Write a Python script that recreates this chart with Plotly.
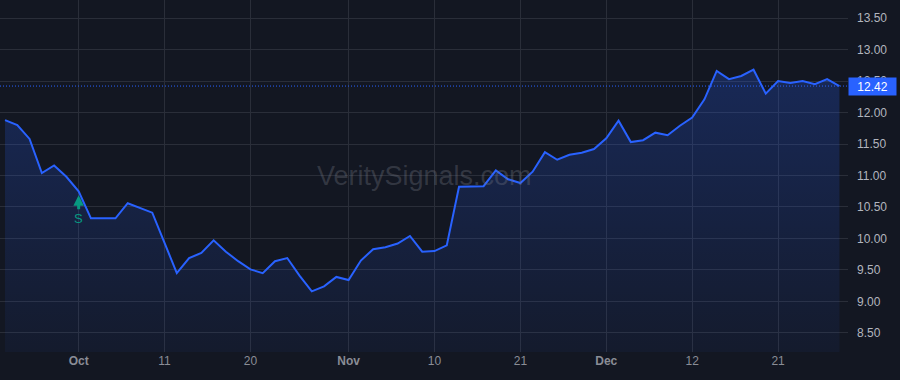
import plotly.graph_objects as go

# ---- data ----
prices = [11.88, 11.80, 11.58, 11.04, 11.16, 10.98, 10.75, 10.32, 10.32, 10.32,
          10.56, 10.48, 10.41, 9.93, 9.45, 9.69, 9.77, 9.97, 9.79, 9.64,
          9.51, 9.45, 9.64, 9.69, 9.41, 9.16, 9.24, 9.39, 9.34, 9.65,
          9.83, 9.86, 9.92, 10.04, 9.79, 9.80, 9.89, 10.82, 10.83, 10.83,
          11.08, 10.94, 10.88, 11.06, 11.37, 11.25, 11.33, 11.36, 11.42, 11.59,
          11.87, 11.53, 11.56, 11.68, 11.64, 11.79, 11.92, 12.21, 12.66, 12.53,
          12.58, 12.68, 12.30, 12.50, 12.47, 12.50, 12.45, 12.53, 12.42]
x_idx = list(range(len(prices)))

tick_positions = [6, 13, 20, 28, 35, 42, 49, 56, 63]
tick_labels = ["<b>Oct</b>", "11", "20", "<b>Nov</b>", "10", "21", "<b>Dec</b>", "12", "21"]

y_ticks = [8.5, 9.0, 9.5, 10.0, 10.5, 11.0, 11.5, 12.0, 12.5, 13.0, 13.5]

signal_index = [6]
signal_text = ["S"]

last_price = prices[-1]
watermark = "VeritySignals.com"

BG = "#131722"
GRID = "#2a2e39"
BLUE = "#2962ff"
TEAL = "#089981"
FONT = "Liberation Sans, Arial, sans-serif"

fig = go.Figure()

fig.add_trace(go.Scatter(
    x=x_idx, y=prices, mode="lines",
    line=dict(color=BLUE, width=2),
    fill="tozeroy",
    fillgradient=dict(type="vertical",
                      colorscale=[[0, "rgba(41,98,255,0.05)"], [1, "rgba(41,98,255,0.24)"]],
                      start=8.2, stop=12.7),
    hoverinfo="skip", showlegend=False,
))

fig.add_shape(type="line", xref="paper", x0=0, x1=1, yref="y", y0=last_price, y1=last_price,
              line=dict(color=BLUE, width=1, dash="1px,2px"))

annotations = []
for i, t in zip(signal_index, signal_text):
    annotations.append(dict(
        x=i, y=prices[i], xref="x", yref="y", text=t, showarrow=True,
        ax=0, ay=27, arrowhead=2, arrowsize=0.7, arrowwidth=3, arrowcolor=TEAL,
        standoff=4, font=dict(color=TEAL, size=13, family=FONT),
    ))

annotations.append(dict(
    x=1, y=last_price, xref="paper", yref="y", xanchor="left", yanchor="middle",
    text=f"{last_price:.2f}", showarrow=False,
    bgcolor=BLUE, font=dict(color="#ffffff", size=12, family=FONT),
    width=45, height=15, borderpad=1,
))

annotations.append(dict(
    x=0.501, y=0.5, xref="paper", yref="paper", text=watermark, showarrow=False,
    font=dict(color="rgba(120,123,134,0.32)", size=27, family=FONT),
))

fig.update_layout(
    width=900, height=380,
    margin=dict(l=0, r=52, t=0, b=28),
    paper_bgcolor=BG, plot_bgcolor=BG,
    font=dict(family=FONT, size=12, color="#b2b5be"),
    annotations=annotations,
    xaxis=dict(
        range=[-0.41, 68.7], tickmode="array", tickvals=tick_positions, ticktext=tick_labels,
        showgrid=True, gridcolor=GRID, gridwidth=1, zeroline=False, showline=False,
        ticks="", tickfont=dict(color="#8a8d96", size=12), fixedrange=True,
    ),
    yaxis=dict(
        range=[8.198, 13.786], side="right", tickmode="array", tickvals=y_ticks,
        tickformat=".2f", showgrid=True, gridcolor=GRID, gridwidth=1,
        zeroline=False, showline=False, ticks="", ticklabelstandoff=8,
        tickfont=dict(color="#b2b5be", size=12),
    ),
)

fig.write_html("out.html")
